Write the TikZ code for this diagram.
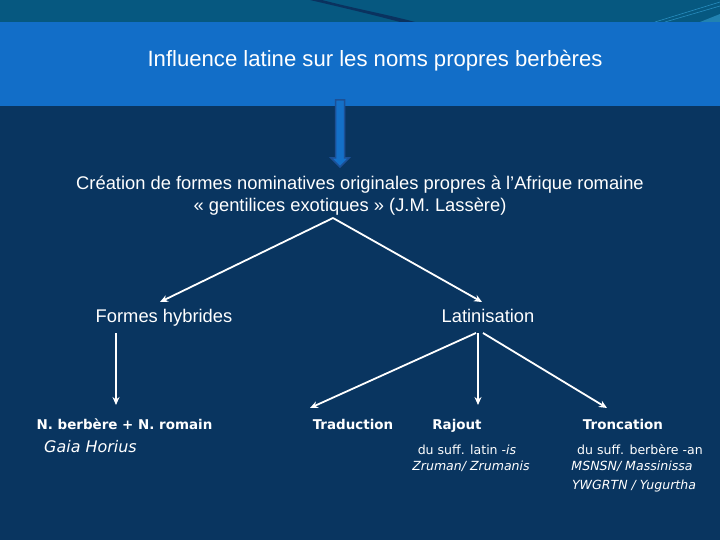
\documentclass[tikz,border=0pt]{standalone}
\usepackage{fontspec}
\setmainfont{Liberation Sans}
\newfontfamily\lowfont{DejaVu Sans}
\usetikzlibrary{arrows.meta}
\definecolor{topstrip}{RGB}{6,88,128}
\definecolor{band}{RGB}{18,110,200}
\definecolor{body}{RGB}{9,53,96}
\definecolor{darkcurve}{RGB}{10,50,95}
\definecolor{lightline}{RGB}{40,140,190}
\definecolor{arrowfill}{RGB}{20,112,200}
\definecolor{arrowedge}{RGB}{28,80,150}
\tikzset{
  lbl/.style={text=white, inner sep=0pt, anchor=center, text height=0.72em, text depth=0.22em, yshift=-3.5bp},
  midtxt/.style={lbl, font=\fontsize{18.4}{22}\selectfont},
  subtxt/.style={lbl, font=\lowfont\bfseries\fontsize{13.5}{16}\selectfont},
  smalltxt/.style={lbl, font=\lowfont\fontsize{12.6}{15}\selectfont},
  conn/.style={white, line width=1.8bp, -{Stealth[length=8bp,width=7bp]}}
}
\begin{document}
\begin{tikzpicture}[x=1bp,y=-1bp]
\useasboundingbox (0,0) rectangle (720,540);
% backgrounds
\fill[body] (0,0) rectangle (720,540);
\fill[topstrip] (0,0) rectangle (720,22);
\fill[darkcurve] (322,0) .. controls (352,8) and (385,14) .. (415,22) -- (400,22) .. controls (370,14) and (340,7) .. (310,0) -- cycle;
\draw[lightline, line width=0.6bp] (655,22) -- (720,2);
\draw[lightline, line width=0.6bp] (665,22) -- (720,6);
\fill[lightline!80!topstrip] (700,22) -- (720,14) -- (720,22) -- cycle;
\fill[band] (0,22) rectangle (720,106);

% title
\node[lbl, font=\fontsize{22.2}{26}\selectfont] (title) at (375,61) {Influence latine sur les noms propres berbères};

% blue block arrow
\filldraw[fill=arrowfill, draw=arrowedge, line width=1.5bp]
  (335.5,100) -- (344.5,100) -- (344.5,158) -- (349,158) -- (340,167) -- (331,158) -- (335.5,158) -- cycle;

% creation
\node[midtxt] (crea) at (360,184) {Création de formes nominatives originales propres à l’Afrique romaine};
\node[midtxt] (gent) at (350,206) {« gentilices exotiques » (J.M. Lassère)};

\node[midtxt] (fh) at (164,317) {Formes hybrides};
\node[midtxt] (lat) at (488,317) {Latinisation};

\coordinate (apex) at (333,218);
\coordinate (fhin) at (160,302);
\coordinate (latin) at (482,302);
\draw[conn] (apex) -- (fhin);
\draw[conn] (apex) -- (latin);

% bottom row
\node[subtxt] (nb) at (124.5,424) {N. berbère + N. romain};
\node[lbl, font=\lowfont\itshape\fontsize{16}{18}\selectfont, anchor=west] (gaia) at (44,447) {Gaia Horius};
\node[subtxt] (trad) at (353,424) {Traduction};
\node[subtxt] (raj) at (457,424) {Rajout};
\node[subtxt] (tron) at (623,424) {Troncation};

\node[smalltxt] (s1) at (467,449) {du suff. latin -\textit{is}};
\node[smalltxt] (s2) at (471,465) {\textit{Zruman/ Zrumanis}};
\node[smalltxt] (t1) at (640,449) {du suff. berbère -an};
\node[smalltxt] (t2) at (632,465) {\textit{MSNSN/ Massinissa}};
\node[smalltxt] (t3) at (634,484) {\textit{YWGRTN / Yugurtha}};

\coordinate (fhout) at (116,333);
\coordinate (nbin) at (116,405);
\draw[conn] (fhout) -- (nbin);

\coordinate (lo1) at (476,333);
\coordinate (lo2) at (478,333);
\coordinate (lo3) at (483,333);
\coordinate (tradin) at (310,408);
\coordinate (rajin) at (478,405);
\coordinate (tronin) at (607,408);
\draw[conn] (lo1) -- (tradin);
\draw[conn] (lo2) -- (rajin);
\draw[conn] (lo3) -- (tronin);
\end{tikzpicture}
\end{document}
